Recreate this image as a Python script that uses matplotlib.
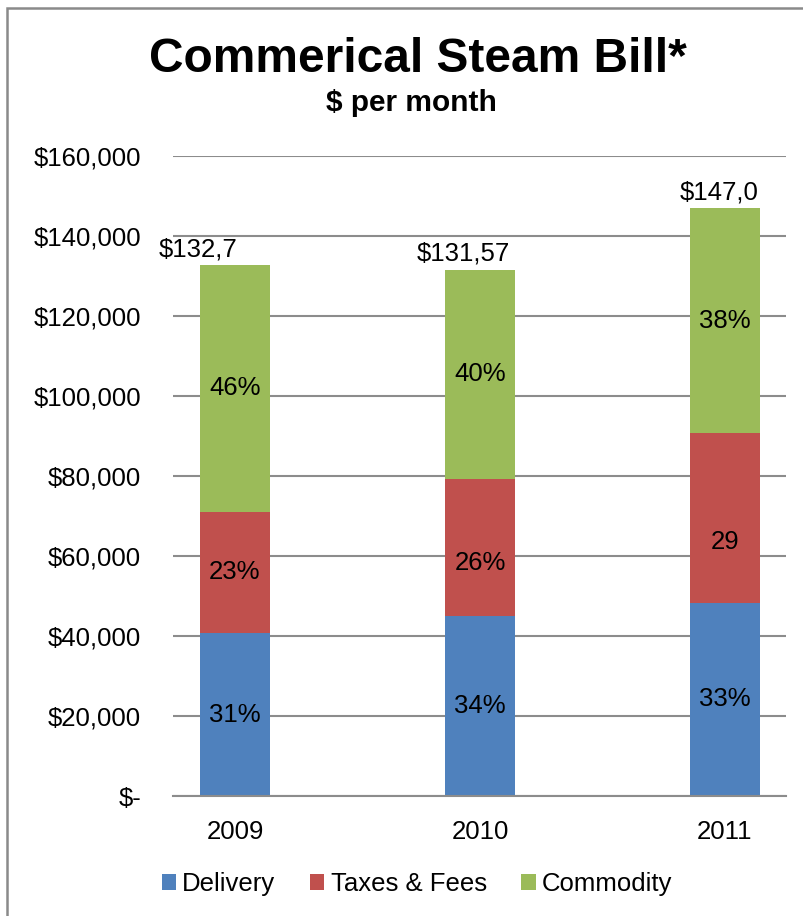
import matplotlib.pyplot as plt
import matplotlib.patches as patches
import numpy as np

plt.rcParams['font.family'] = ['Liberation Sans', 'DejaVu Sans']

# --- Data ---
years = ['2009', '2010', '2011']
delivery = [40700, 45000, 48300]
taxes = [30400, 34300, 42400]
commodity = [61600, 52300, 56300]
total_labels = ['$132,7', '$131,57', '$147,0']   # truncated in the original
delivery_pct = ['31%', '34%', '33%']
taxes_pct = ['23%', '26%', '29']
commodity_pct = ['46%', '40%', '38%']
series_names = ['Delivery', 'Taxes & Fees', 'Commodity']

colors = ['#4F81BD', '#C0504D', '#9BBB59']
grid_color = '#8C8C8C'

fig = plt.figure(figsize=(8.04, 9.16), dpi=100)
ax = fig.add_axes([173/804, 1 - 796/916, (786 - 173)/804, (796 - 156)/916])

x = np.arange(len(years))
width = 0.285
d = np.array(delivery)
t = np.array(taxes)
c = np.array(commodity)

b1 = ax.bar(x, d, width, color=colors[0], label=series_names[0], zorder=3)
b2 = ax.bar(x, t, width, bottom=d, color=colors[1], label=series_names[1], zorder=3)
b3 = ax.bar(x, c, width, bottom=d + t, color=colors[2], label=series_names[2], zorder=3)

# percent labels inside segments (a couple sit a little low, as in the original)
red_dy = [0, -16, -24]
for i in range(len(years)):
    ax.text(x[i], d[i] / 2, delivery_pct[i], ha='center', va='center', fontsize=18.5, zorder=4)
    ax.annotate(taxes_pct[i], (x[i], d[i] + t[i] / 2), xytext=(0, red_dy[i]),
                textcoords='offset pixels', ha='center', va='center', fontsize=18.5, zorder=4)
    ax.text(x[i], d[i] + t[i] + c[i] / 2, commodity_pct[i], ha='center', va='center',
            fontsize=18.5, zorder=4)

# total labels above the bars (left-aligned text boxes, clipped)
total_dx = [-76, -63, -45]
tops = d + t + c
for i in range(len(years)):
    ax.annotate(total_labels[i], (x[i], tops[i]), xytext=(total_dx[i], 16),
                textcoords='offset pixels', ha='left', va='center', fontsize=18.5, zorder=4)

ax.set_xlim(-0.253, 2.249)
ax.set_ylim(0, 160000)
ax.set_yticks(np.arange(0, 160001, 20000))
ax.set_yticklabels(['$-'] + [f'${v:,.0f}' for v in np.arange(20000, 160001, 20000)])
ax.set_xticks(x)
ax.set_xticklabels(years)
ax.tick_params(axis='y', length=0, pad=23, labelsize=18.5)
ax.tick_params(axis='x', length=0, pad=17, labelsize=18.5)

ax.yaxis.grid(True, color=grid_color, linewidth=1.5, zorder=0)
for s in ['top', 'right', 'left']:
    ax.spines[s].set_visible(False)
ax.spines['bottom'].set_color(grid_color)
ax.spines['bottom'].set_linewidth(1.5)
ax.spines['bottom'].set_zorder(5)

# titles
fig.text(418/804, 1 - 60/916, 'Commerical Steam Bill*', ha='center', va='center',
         fontsize=34.5, fontweight='bold')
fig.text(411/804, 1 - 103/916, '$ per month', ha='center', va='center',
         fontsize=21.5, fontweight='bold')

# legend
fig.legend(handles=[b1, b2, b3], labels=series_names, loc='center',
           bbox_to_anchor=(417/804, 1 - 884/916), ncol=3, frameon=False,
           fontsize=18.5, handlelength=0.55, handleheight=0.55,
           handletextpad=0.25, columnspacing=1.35)

# chart border (cropped on the right and bottom)
border = patches.Rectangle((7/804, -0.2), 1.2, 1 - 8/916 + 0.2, transform=fig.transFigure,
                           fill=False, edgecolor='#8A8A8A', linewidth=1.8)
fig.add_artist(border)

fig.savefig('out.png', dpi=100)
